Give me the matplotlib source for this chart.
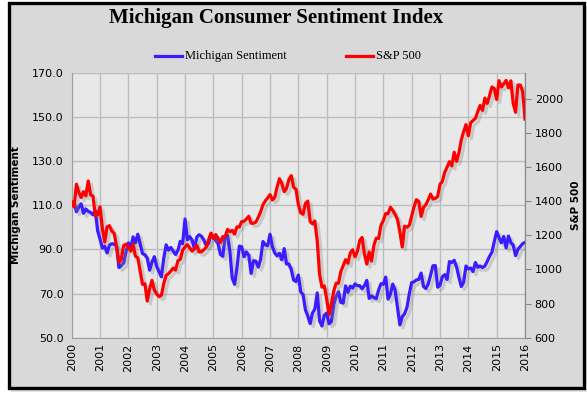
import numpy as np
import matplotlib
matplotlib.use("Agg")
import matplotlib.pyplot as plt
import matplotlib.patheffects as pe
from matplotlib.patches import Rectangle

title = "Michigan Consumer Sentiment Index"
series_names = ["Michigan Sentiment", "S&P 500"]
start_year = 2000

michigan = [
    112.0, 111.3, 107.1, 109.2, 110.7, 106.4, 108.3, 107.3, 106.8, 105.8, 107.6, 98.4,
    94.7, 90.6, 91.5, 88.4, 92.0, 92.6, 92.4, 91.5, 81.8, 82.7, 83.9, 88.8,
    93.0, 90.7, 95.7, 93.0, 96.9, 92.4, 88.1, 87.6, 86.1, 80.6, 84.2, 86.7,
    82.4, 79.9, 77.6, 86.0, 92.1, 89.7, 90.9, 89.3, 87.7, 89.6, 93.7, 92.6,
    103.8, 94.4, 95.8, 94.2, 90.2, 95.6, 96.7, 95.9, 94.2, 91.7, 92.8, 97.1,
    95.5, 94.1, 92.6, 87.7, 86.9, 96.0, 96.5, 89.1, 76.9, 74.2, 81.6, 91.5,
    91.2, 86.7, 88.9, 87.4, 79.1, 84.9, 84.7, 82.0, 85.4, 93.6, 92.1, 91.7,
    96.9, 91.3, 88.4, 87.1, 88.3, 85.3, 90.4, 83.4, 83.4, 80.9, 76.1, 75.5,
    78.4, 70.8, 69.5, 62.6, 59.8, 56.4, 61.2, 63.0, 70.3, 57.6, 55.3, 60.1,
    61.2, 56.3, 57.3, 65.1, 68.7, 70.8, 66.0, 65.7, 73.5, 70.6, 73.4, 72.5,
    74.4, 73.6, 73.6, 72.2, 73.6, 76.0, 67.8, 68.9, 68.2, 67.7, 71.6, 74.5,
    74.2, 77.5, 67.5, 69.8, 74.3, 71.5, 63.7, 55.8, 59.5, 60.8, 63.7, 69.9,
    75.0, 75.3, 76.2, 76.4, 79.3, 73.2, 72.3, 74.3, 78.3, 82.6, 82.7, 72.9,
    73.8, 77.6, 78.6, 76.4, 84.5, 84.1, 85.1, 82.1, 77.5, 73.2, 75.1, 82.5,
    81.2, 81.6, 80.0, 84.1, 81.9, 82.5, 81.8, 82.5, 84.6, 86.9, 88.8, 93.6,
    98.1, 95.4, 93.0, 95.9, 90.7, 96.1, 93.1, 91.9, 87.2, 90.0, 91.3, 92.6,
    93.2,
]

sp500 = [
    1394, 1366, 1499, 1452, 1421, 1455, 1431, 1518, 1437, 1429, 1315, 1320,
    1366, 1240, 1160, 1249, 1256, 1224, 1211, 1134, 1041, 1060, 1139, 1148,
    1130, 1107, 1147, 1077, 1067, 990, 912, 916, 815, 886, 936, 880,
    856, 841, 848, 917, 964, 975, 990, 1008, 996, 1051, 1058, 1112,
    1131, 1145, 1126, 1107, 1121, 1141, 1102, 1104, 1115, 1130, 1174, 1212,
    1181, 1204, 1181, 1157, 1192, 1191, 1234, 1220, 1229, 1207, 1249, 1248,
    1280, 1281, 1295, 1311, 1270, 1270, 1277, 1304, 1336, 1378, 1401, 1418,
    1438, 1407, 1421, 1482, 1531, 1503, 1455, 1474, 1527, 1549, 1481, 1468,
    1379, 1331, 1323, 1386, 1400, 1280, 1267, 1283, 1166, 969, 896, 903,
    826, 735, 798, 873, 919, 919, 987, 1021, 1057, 1036, 1096, 1115,
    1074, 1104, 1169, 1187, 1089, 1031, 1102, 1049, 1141, 1183, 1181, 1258,
    1286, 1327, 1326, 1364, 1345, 1321, 1292, 1219, 1131, 1253, 1247, 1258,
    1312, 1366, 1408, 1398, 1310, 1362, 1379, 1407, 1441, 1412, 1416, 1426,
    1498, 1515, 1569, 1598, 1631, 1606, 1686, 1633, 1682, 1757, 1806, 1848,
    1783, 1859, 1872, 1884, 1924, 1960, 1931, 2003, 1972, 2018, 2068, 2059,
    1995, 2105, 2068, 2086, 2107, 2063, 2104, 1972, 1920, 2079, 2080, 2044,
    1880,
]

year_ticks = list(range(2000, 2017))
left_ticks = [50, 70, 90, 110, 130, 150, 170]
right_ticks = [600, 800, 1000, 1200, 1400, 1600, 1800, 2000]

x = start_year + np.arange(len(michigan)) / 12.0
x2 = start_year + np.arange(len(sp500)) / 12.0

W, H = 587, 398
fig = plt.figure(figsize=(W / 100, H / 100), dpi=100)
fig.patch.set_facecolor("white")

# outer frame with soft shadow
fig.patches.append(Rectangle((11 / W, 1 - 392 / H), 576 / W, 386 / H,
                             transform=fig.transFigure, facecolor="#d0d0d0",
                             edgecolor="none", zorder=-3, alpha=0.6))
fig.patches.append(Rectangle((8.5 / W, 1 - 388 / H), 575 / W, 385 / H,
                             transform=fig.transFigure, facecolor="#d9d9d9",
                             edgecolor="black", linewidth=2.4, zorder=-2))

ax = fig.add_axes([71.7 / W, 1 - 337.7 / H, (525 - 71.7) / W, (337.7 - 73) / H])
ax.set_facecolor("#e8e8e8")
ax2 = ax.twinx()

shadow = [pe.SimpleLineShadow(offset=(2.2, -2.2), shadow_color="#808080", alpha=0.3),
          pe.Normal()]

ax2.plot(x2, sp500, color="#ff0000", linewidth=2.3, path_effects=shadow, solid_joinstyle="round")
ax.plot(x, michigan, color="#3a1cff", linewidth=2.3, path_effects=shadow, solid_joinstyle="round")

ax.set_zorder(1)
ax2.set_zorder(2)
ax.patch.set_visible(True)
ax2.patch.set_visible(False)

ax.set_xlim(2000, 2016)
ax.set_ylim(50, 170)
ax2.set_ylim(600, 2150)
ax.set_xticks(year_ticks)
ax.set_xticklabels([str(y) for y in year_ticks], rotation=90, fontsize=8)
ax.set_yticks(left_ticks)
ax.set_yticklabels([f"{v:.1f}" for v in left_ticks], fontsize=8)
ax2.set_yticks(right_ticks)
ax2.set_yticklabels([str(v) for v in right_ticks], fontsize=8)

ax.grid(True, color="#bdbdbd", linewidth=1.0)
ax.set_axisbelow(True)
ax.tick_params(axis="y", length=0, pad=6)
ax.tick_params(axis="x", length=0, pad=4)
ax2.tick_params(axis="y", length=4, color="#888888", pad=3)

for a in (ax, ax2):
    for s in a.spines.values():
        s.set_color("#a0a0a0")
    a.spines["top"].set_visible(False)
ax2.spines["right"].set_color("#888888")
ax2.spines["left"].set_visible(False)
ax2.spines["bottom"].set_visible(False)

ax.set_ylabel("Michigan Sentiment", fontsize=7.5, fontweight="bold", labelpad=8)
ax2.set_ylabel("S&P 500", fontsize=7.5, fontweight="bold", labelpad=6)

fig.text(276 / W, 1 - 18 / H, title, ha="center", va="center",
         fontsize=15, fontweight="bold", family="Liberation Serif")

# legend
fig.lines.append(plt.Line2D([155 / W, 182 / W], [1 - 56 / H, 1 - 56 / H], color="#3a1cff",
                            linewidth=2.3, transform=fig.transFigure))
fig.text(185 / W, 1 - 56 / H, series_names[0], ha="left", va="center", fontsize=9,
         family="Liberation Serif")
fig.lines.append(plt.Line2D([346 / W, 373 / W], [1 - 56 / H, 1 - 56 / H], color="#ff0000",
                            linewidth=2.3, transform=fig.transFigure))
fig.text(376 / W, 1 - 56 / H, series_names[1], ha="left", va="center", fontsize=9,
         family="Liberation Serif")

fig.savefig("out.png", dpi=100)
